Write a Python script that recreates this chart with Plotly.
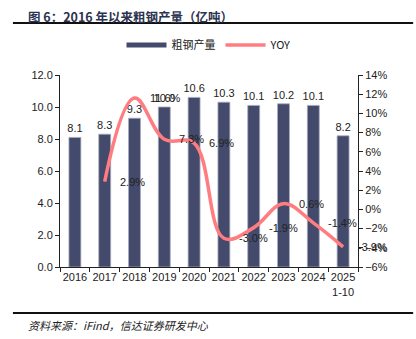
import plotly.graph_objects as go

years = ["2016", "2017", "2018", "2019", "2020", "2021", "2022", "2023", "2024", "2025<br>1-10"]
output = [8.1, 8.3, 9.3, 10.0, 10.6, 10.3, 10.1, 10.2, 10.1, 8.2]
yoy_years = years[1:]
yoy = [2.9, 11.6, 7.3, 6.9, -3.0, -1.9, 0.6, -1.4, -3.9]

BAR = "#434A6B"
LINE = "#FF7C80"
FONT = "Liberation Sans, Arial, sans-serif"

fig = go.Figure()
fig.add_trace(go.Bar(
    x=years, y=output, name="粗钢产量", width=0.4,
    marker=dict(color=BAR, line=dict(color="#A7ABBE", width=0.8)),
    text=[f"{v:.1f}" for v in output], textposition="outside", constraintext="none",
    textfont=dict(size=11, color="#222", family=FONT),
    cliponaxis=False, showlegend=False,
))
# legend-only entry so the bar key is drawn as a wide strip
fig.add_trace(go.Scatter(
    x=[years[0]], y=[None], mode="lines", name="粗钢产量",
    line=dict(color=BAR, width=5),
))
fig.add_trace(go.Scatter(
    x=yoy_years, y=yoy, name="YOY", yaxis="y2", mode="lines",
    line=dict(color=LINE, width=3.5, shape="spline", smoothing=1.1),
))

annotations = []
for x, v in zip(yoy_years, yoy):
    annotations.append(dict(
        x=years.index(x), y=v, xref="x", yref="y2", text=f"{v:.1f}%", showarrow=False,
        xanchor="left", yanchor="middle", xshift=13,
        font=dict(size=11, color="#222", family=FONT),
    ))
annotations.append(dict(
    x=-0.115, y=1.305, xref="paper", yref="paper", xanchor="left", yanchor="middle",
    text="<b>图 6：2016 年以来粗钢产量（亿吨）</b>", showarrow=False,
    font=dict(size=12.5, color="#2B3350", family="Noto Sans CJK SC"),
))
annotations.append(dict(
    x=-0.115, y=-0.3, xref="paper", yref="paper", xanchor="left", yanchor="middle",
    text="<i>资料来源：iFind，信达证券研发中心</i>", showarrow=False,
    font=dict(size=11, color="#222", family="Noto Sans CJK SC"),
))

shapes = [
    dict(type="line", xref="paper", yref="paper", x0=-0.158, x1=1.185, y0=1.271, y1=1.271,
         line=dict(color="#111", width=2)),
    dict(type="line", xref="paper", yref="paper", x0=-0.158, x1=1.185, y0=-0.24, y1=-0.24,
         line=dict(color="#111", width=2)),
]

fig.update_layout(
    width=416, height=339,
    margin=dict(l=60, r=58, t=75, b=72),
    paper_bgcolor="white", plot_bgcolor="white",
    font=dict(family=FONT, size=11, color="#222"),
    annotations=annotations, shapes=shapes,
    legend=dict(orientation="h", x=0.5, xanchor="center", y=1.156, yanchor="middle",
                font=dict(size=11, family="Noto Sans CJK SC, Liberation Sans"),
                itemwidth=40, bgcolor="rgba(0,0,0,0)"),
    xaxis=dict(type="category", categoryorder="array", categoryarray=years,
               range=[-0.5, len(years) - 0.5],
               showline=True, linecolor="#222", linewidth=1,
               ticks="outside", tickson="boundaries", ticklen=4, tickcolor="#222",
               showgrid=False, tickfont=dict(size=11), tickangle=0),
    yaxis=dict(range=[0, 12], dtick=2, tickformat=".1f", showline=True, linecolor="#222",
               ticks="outside", ticklen=4, tickcolor="#222", showgrid=False, zeroline=False,
               tickfont=dict(size=11)),
    yaxis2=dict(range=[-6, 14], dtick=2, ticksuffix="%", overlaying="y", side="right",
                showline=True, linecolor="#222", ticks="outside", ticklen=4, tickcolor="#222",
                showgrid=False, zeroline=False, tickfont=dict(size=11)),
)

fig.write_html("out.html")
